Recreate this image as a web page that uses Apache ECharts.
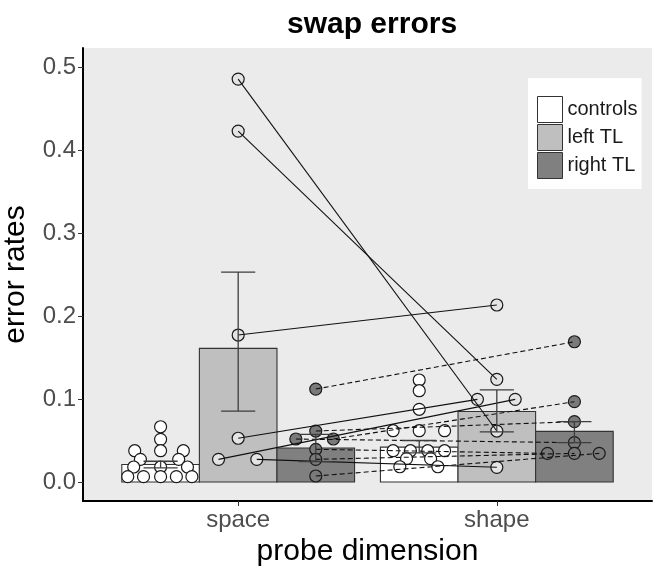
<!DOCTYPE html>
<html>
<head>
<meta charset="utf-8">
<script src="https://cdn.jsdelivr.net/npm/echarts@6/dist/echarts.min.js"></script>
<style>
  html, body { margin: 0; padding: 0; background: #fff; }
  #main { width: 658px; height: 576px; }
</style>
</head>
<body>
<div id="main"></div>
<script>
// categories on the x axis and groups (dodged bars)
const categories = ['space', 'shape'];
const groups = ['controls', 'left TL', 'right TL'];
const yTicks = [0, 0.1, 0.2, 0.3, 0.4, 0.5];

// bar heights per group: [space, shape]
const meanControls = [0.021, 0.042];
const meanLeftTL = [0.161, 0.085];
const meanRightTL = [0.041, 0.061];

// error bar ends per group: [[low, high] space, [low, high] shape]
const errControls = [[0.017, 0.025], [0.035, 0.050]];
const errLeftTL = [[0.0855, 0.253], [0.0605, 0.111]];
const errRightTL = [[0.0245, 0.0575], [0.0474, 0.0727]];

// single subjects (value, horizontal jitter in category units)
const controlsSpace = [0.0666, 0.0514, 0.0377, 0.0377, 0.0377, 0.0273, 0.0273, 0.0181, 0.0181, 0.0181, 0.0064, 0.0064, 0.0064, 0.0064, 0.0064];
const controlsSpaceJitter = [0, 0, 0, -0.1, 0.088, -0.078, 0.07, -0.104, 0, 0.104, -0.127, -0.066, 0, 0.061, 0.121];
const controlsShape = [0.1229, 0.110, 0.0876, 0.0618, 0.0618, 0.0618, 0.0377, 0.0377, 0.0377, 0.0377, 0.0281, 0.0281, 0.0184, 0.0184];
const controlsShapeJitter = [0, 0, 0, -0.101, 0, 0.098, -0.101, -0.034, 0.033, 0.098, -0.049, 0.044, -0.075, 0.072];

// patients, same index = same patient (space -> shape)
const leftTLSpace = [0.4855, 0.4229, 0.1771, 0.0527, 0.0273, 0.0273];
const leftTLSpaceJitter = [0, 0, 0, 0, -0.076, 0.072];
const leftTLShape = [0.0614, 0.1237, 0.2133, 0.0996, 0.0996, 0.0177];
const leftTLShapeJitter = [0, 0, 0, -0.075, 0.071, 0];

const rightTLSpace = [0.112, 0.0614, 0.0518, 0.0518, 0.0394, 0.0273, 0.0072];
const rightTLSpaceJitter = [0, 0, 0.068, -0.077, 0, 0, 0];
const rightTLShape = [0.169, 0.0727, 0.0968, 0.0474, 0.0345, 0.0345, 0.0345];
const rightTLShapeJitter = [0, 0, 0, 0, -0.104, 0, 0.096];

const FONT = '"Liberation Sans", Arial, Helvetica, sans-serif';
const barFill = ['#ffffff', '#bfbfbf', '#808080'];
const pointFill = ['#ffffff', '#e4e4e4', '#7a7a7a'];
const dodge = [-0.3, 0, 0.3];
const halfBar = 0.15;
const halfCap = 0.066;

const means = [meanControls, meanLeftTL, meanRightTL];
const errs = [errControls, errLeftTL, errRightTL];

let chart = echarts.init(document.getElementById('main'));

function barSeries(g) {
  return {
    type: 'custom',
    name: groups[g],
    z: 1,
    itemStyle: { color: barFill[g], borderColor: '#333', borderWidth: 1 },
    data: categories.map((c, i) => [i + 1 + dodge[g], means[g][i]]),
    renderItem: function (params, api) {
      let x = api.value(0);
      let a = api.coord([x - halfBar, api.value(1)]);
      let b = api.coord([x + halfBar, 0]);
      return {
        type: 'rect',
        shape: { x: a[0], y: a[1], width: b[0] - a[0], height: b[1] - a[1] },
        style: { fill: barFill[g], stroke: '#333', lineWidth: 1.1 },
      };
    },
  };
}

function errSeries(g) {
  return {
    type: 'custom',
    name: groups[g] + ' se',
    z: 5,
    data: categories.map((c, i) => [i + 1 + dodge[g], errs[g][i][0], errs[g][i][1]]),
    renderItem: function (params, api) {
      let x = api.value(0);
      let lo = api.coord([x, api.value(1)]);
      let hi = api.coord([x, api.value(2)]);
      let l = api.coord([x - halfCap, 0])[0];
      let r = api.coord([x + halfCap, 0])[0];
      let st = { stroke: '#3d3d3d', lineWidth: 1.3 };
      return {
        type: 'group',
        children: [
          { type: 'line', shape: { x1: lo[0], y1: lo[1], x2: hi[0], y2: hi[1] }, style: st },
          { type: 'line', shape: { x1: l, y1: lo[1], x2: r, y2: lo[1] }, style: st },
          { type: 'line', shape: { x1: l, y1: hi[1], x2: r, y2: hi[1] }, style: st },
        ],
      };
    },
  };
}

function pointSeries(g, cat, vals, jit) {
  return {
    type: 'scatter',
    name: groups[g] + ' ' + categories[cat],
    z: 3,
    symbol: 'circle',
    symbolSize: 12,
    itemStyle: { color: pointFill[g], borderColor: '#1a1a1a', borderWidth: 1.2, opacity: 1 },
    data: vals.map((v, i) => [cat + 1 + dodge[g] + jit[i], v]),
  };
}

function pairSeries(g, sv, sj, hv, hj, dashed) {
  return {
    type: 'lines',
    coordinateSystem: 'cartesian2d',
    name: groups[g] + ' pairs',
    z: 4,
    silent: true,
    lineStyle: { color: '#111', width: 1.1, type: dashed ? [5, 3] : 'solid', opacity: 1 },
    data: sv.map((v, i) => ({
      coords: [[1 + dodge[g] + sj[i], v], [2 + dodge[g] + hj[i], hv[i]]],
    })),
  };
}

let option = {
  animation: false,
  title: {
    text: 'swap errors',
    left: 282,
    top: 5,
    textStyle: { fontSize: 30, fontWeight: 'bold', color: '#000', fontFamily: FONT },
  },
  legend: {
    orient: 'vertical',
    left: 528,
    top: 78,
    selectedMode: false,
    backgroundColor: '#ffffff',
    padding: [18, 4, 10, 9],
    itemWidth: 25,
    itemHeight: 26,
    itemGap: 1,
    textStyle: { fontSize: 20, color: '#1a1a1a', fontFamily: FONT },
    data: groups.map((g, i) => ({
      name: g,
      icon: 'rect',
      itemStyle: { color: barFill[i], borderColor: '#333', borderWidth: 1 },
    })),
  },
  grid: {
    left: 83,
    right: 6,
    top: 48,
    bottom: 75,
    containLabel: false,
    outerBoundsMode: 'none',
    show: true,
    backgroundColor: '#ebebeb',
    borderWidth: 0,
  },
  xAxis: {
    type: 'value',
    min: 0.4,
    max: 2.6,
    name: 'probe dimension',
    nameLocation: 'middle',
    nameGap: 35,
    nameTextStyle: { fontSize: 30, color: '#000', fontFamily: FONT },
    axisLine: { show: true, onZero: false, lineStyle: { color: '#000', width: 2 } },
    axisTick: { show: true, length: 5, customValues: [1, 2], lineStyle: { color: '#333' } },
    axisLabel: {
      customValues: [1, 2],
      formatter: (v) => categories[Math.round(v) - 1],
      fontSize: 24,
      color: '#4d4d4d',
      margin: 7,
      fontFamily: FONT,
    },
    splitLine: { show: false },
  },
  yAxis: {
    type: 'value',
    min: -0.0229,
    max: 0.523,
    name: 'error rates',
    nameLocation: 'middle',
    nameGap: 52,
    nameTextStyle: { fontSize: 30, color: '#000', fontFamily: FONT },
    axisLine: { show: true, onZero: false, lineStyle: { color: '#000', width: 2 } },
    axisTick: { show: true, length: 5, customValues: yTicks, lineStyle: { color: '#333' } },
    axisLabel: {
      customValues: yTicks,
      formatter: (v) => v.toFixed(1),
      fontSize: 24,
      color: '#4d4d4d',
      margin: 7,
      fontFamily: FONT,
    },
    splitLine: { show: false },
  },
  series: [
    barSeries(0),
    barSeries(1),
    barSeries(2),
    pointSeries(0, 0, controlsSpace, controlsSpaceJitter),
    pointSeries(0, 1, controlsShape, controlsShapeJitter),
    pointSeries(1, 0, leftTLSpace, leftTLSpaceJitter),
    pointSeries(1, 1, leftTLShape, leftTLShapeJitter),
    pointSeries(2, 0, rightTLSpace, rightTLSpaceJitter),
    pointSeries(2, 1, rightTLShape, rightTLShapeJitter),
    pairSeries(1, leftTLSpace, leftTLSpaceJitter, leftTLShape, leftTLShapeJitter, false),
    pairSeries(2, rightTLSpace, rightTLSpaceJitter, rightTLShape, rightTLShapeJitter, true),
    errSeries(0),
    errSeries(1),
    errSeries(2),
  ],
};

chart.setOption(option);
</script>
</body>
</html>
